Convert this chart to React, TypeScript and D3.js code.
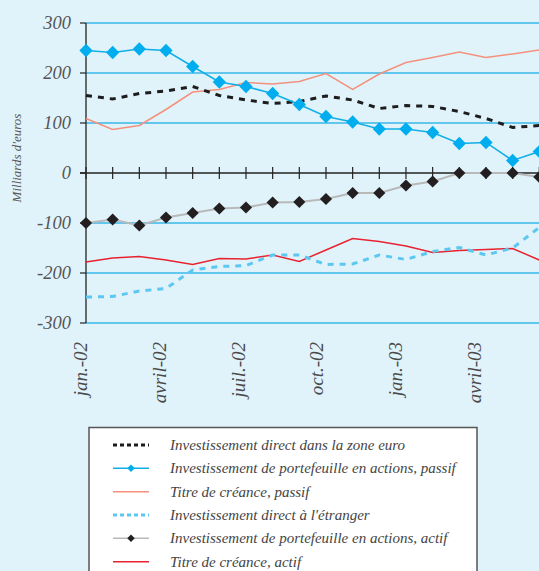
import React from "react";
import * as d3 from "d3";

const months = ["jan.-02","févr.-02","mars-02","avril-02","mai-02","juin-02","juil.-02","août-02","sept.-02","oct.-02","nov.-02","déc.-02","jan.-03","févr.-03","mars-03","avril-03","mai-03","juin-03"];
const tickLabels = ["jan.-02","avril-02","juil.-02","oct.-02","jan.-03","avril-03"];
const yTicks = [300, 200, 100, 0, -100, -200, -300];

const directZoneEuro = [155,148,159,164,173,155,146,139,143,154,146,129,135,133,123,109,91,95];
const portefeuillePassif = [245,241,248,245,213,182,173,159,137,113,102,88,88,81,59,61,25,43];
const creancePassif = [109,87,95,127,162,167,181,178,183,199,167,198,221,231,242,231,238,246];
const directEtranger = [-248,-247,-236,-231,-194,-187,-185,-164,-164,-183,-182,-164,-173,-157,-149,-164,-150,-109];
const portefeuilleActif = [-100,-93,-105,-89,-80,-71,-69,-59,-58,-52,-40,-40,-25,-17,0,0,0,-8];
const creanceActif = [-178,-170,-167,-174,-183,-171,-172,-164,-177,-154,-131,-137,-146,-159,-155,-153,-151,-174];

const legendLabels = [
  "Investissement direct dans la zone euro",
  "Investissement de portefeuille en actions, passif",
  "Titre de créance, passif",
  "Investissement direct à l'étranger",
  "Investissement de portefeuille en actions, actif",
  "Titre de créance, actif",
];

const W = 539, H = 571;
const BG = "#e0f3fb";
const GRID = "#3ab7e8";
const FONT = "'Liberation Serif', 'DejaVu Serif', serif";

export default function App() {
  const x = d3.scaleLinear().domain([0, 17]).range([86, 539.3]);
  const y = d3.scaleLinear().domain([-300, 300]).range([323, 23]);
  const line = d3.line<number>().x((_, i) => x(i)).y((d) => y(d));
  const diamond = (s: number) => d3.symbol().type(d3.symbolSquare).size(s)() as string;
  const idx = months.map((_, i) => i);

  const series = [
    { data: directZoneEuro, stroke: "#1d1d1d", width: 3, dash: "6,6", marker: null },
    { data: portefeuillePassif, stroke: "#12aee8", width: 1.5, dash: null, marker: "#00aeef" },
    { data: creancePassif, stroke: "#f4917c", width: 1.5, dash: null, marker: null },
    { data: directEtranger, stroke: "#5cc8f2", width: 3, dash: "6,6", marker: null },
    { data: portefeuilleActif, stroke: "#b9b9b9", width: 2, dash: null, marker: "#231f20" },
    { data: creanceActif, stroke: "#e8232f", width: 1.5, dash: null, marker: null },
  ];
  const drawOrder = [2, 0, 5, 3, 4, 1];

  const legY = d3.scaleLinear().domain([0, 5]).range([445, 561.7]);

  return (
    <svg width={W} height={H} style={{ position: "absolute", left: 0, top: 0, background: BG }}>
      <rect x={0} y={0} width={W} height={H} fill={BG} />
      {yTicks.filter((t) => t !== 0).map((t) => (
        <line key={t} x1={86} x2={W} y1={y(t)} y2={y(t)} stroke={GRID} strokeWidth={1.6} />
      ))}
      <line x1={86} x2={86} y1={y(300)} y2={y(-300)} stroke="#222" strokeWidth={1.3} />
      {yTicks.map((t) => (
        <g key={t}>
          <line x1={80} x2={86} y1={y(t)} y2={y(t)} stroke="#222" strokeWidth={1.2} />
          <text x={71} y={y(t) + 6} textAnchor="end" fontFamily={FONT} fontStyle="italic" fontSize={18.5} fill="#555">
            {t < 0 ? `-${-t}` : t}
          </text>
        </g>
      ))}
      <text transform={`translate(21,158) rotate(-90)`} textAnchor="middle" fontFamily={FONT} fontStyle="italic" fontSize={13} fill="#555">
        Milliards d'euros
      </text>
      <line x1={80} x2={W} y1={y(0)} y2={y(0)} stroke="#222" strokeWidth={1.4} />
      {idx.map((i) => (
        <line key={i} x1={x(i)} x2={x(i)} y1={y(0) - 6} y2={y(0) + 6} stroke="#222" strokeWidth={1.2} />
      ))}
      {tickLabels.map((lab, k) => (
        <text key={lab + k} transform={`translate(${x(k * 3) - 0.4 * k * 3 + 1},342) rotate(-90)`} textAnchor="end"
          fontFamily={FONT} fontStyle="italic" fontSize={19} fill="#4a4a4a">
          {lab}
        </text>
      ))}
      {drawOrder.map((si) => {
        const s = series[si];
        return (
          <g key={si}>
            <path d={line(s.data) as string} fill="none" stroke={s.stroke} strokeWidth={s.width}
              strokeDasharray={s.dash || undefined} />
            {s.marker && s.data.map((v, i) => (
              <path key={i} d={diamond(si === 1 ? 88 : 74)} transform={`translate(${x(i)},${y(v)}) rotate(45)`} fill={s.marker as string} />
            ))}
          </g>
        );
      })}
      <rect x={89} y={427.5} width={388} height={160} fill="#ffffff" stroke="#555" strokeWidth={1.5} />
      {legendLabels.map((lab, i) => {
        const s = series[i];
        const ly = legY(i);
        return (
          <g key={lab}>
            <line x1={113} x2={149} y1={ly} y2={ly} stroke={s.stroke}
              strokeWidth={i === 0 || i === 3 ? 3 : 1.5} strokeDasharray={i === 0 || i === 3 ? "4,3" : undefined} />
            {s.marker && <path d={diamond(28)} transform={`translate(131,${ly}) rotate(45)`} fill={s.marker as string} />}
            <text x={170} y={ly + 5} fontFamily={FONT} fontStyle="italic" fontSize={15} fill="#444">{lab}</text>
          </g>
        );
      })}
    </svg>
  );
}
